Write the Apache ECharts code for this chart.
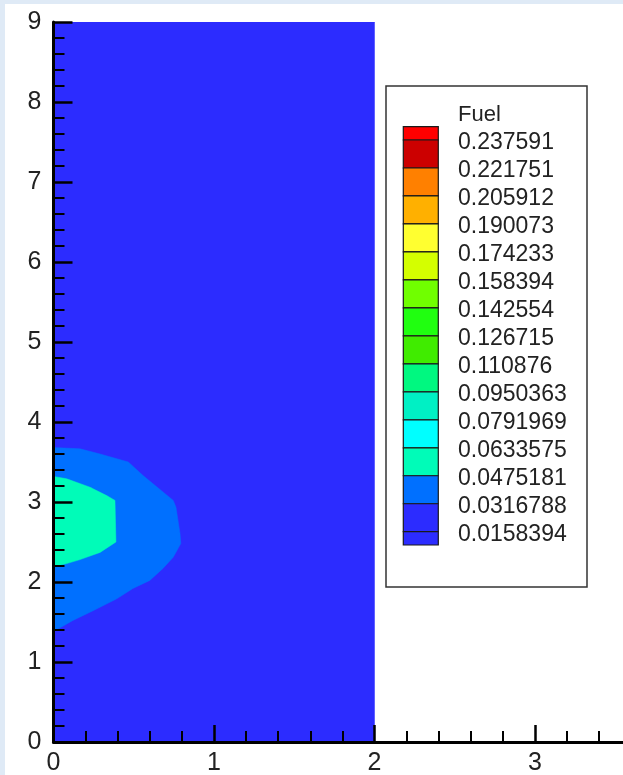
<!DOCTYPE html>
<html>
<head>
<meta charset="utf-8">
<script src="https://cdn.jsdelivr.net/npm/echarts@6/dist/echarts.min.js"></script>
<style>
  html, body { margin: 0; padding: 0; background: #dfeaf6; }
  #chart { position: absolute; left: 5px; top: 4px; width: 618px; height: 771px; background: #ffffff; }
</style>
</head>
<body>
<div id="chart"></div>
<script>
// Contour levels of the "Fuel" variable, highest first
const levelLabels = ['0.237591', '0.221751', '0.205912', '0.190073', '0.174233',
  '0.158394', '0.142554', '0.126715', '0.110876', '0.0950363', '0.0791969',
  '0.0633575', '0.0475181', '0.0316788', '0.0158394'];

// Flood colours of the bands, from above the top level down to below the lowest
const bandColors = ['#ff0000', '#cc0000', '#ff8000', '#ffb000', '#ffff30', '#d4ff00',
  '#70ff00', '#20ff10', '#40ec00', '#00f880', '#00f0c4', '#00ffff', '#00fcb8',
  '#0070ff', '#2c2cff', '#2c2cff'];

// Computational domain (x, y)
const domainOutline = [[0, 0], [2, 0], [2, 9], [0, 9]];

// Region where Fuel >= 0.0316788
const band0316Outline = [[0, 3.68], [0.165, 3.665], [0.29, 3.60], [0.466, 3.50],
  [0.558, 3.33], [0.643, 3.19], [0.746, 3.02], [0.763, 2.935], [0.788, 2.61],
  [0.793, 2.48], [0.746, 2.31], [0.682, 2.17], [0.60, 2.02], [0.495, 1.92],
  [0.394, 1.79], [0.246, 1.64], [0.121, 1.52], [0, 1.38]];

// Region where Fuel >= 0.0475181
const band0475Outline = [[0, 3.32], [0.082, 3.29], [0.227, 3.185], [0.331, 3.08],
  [0.383, 3.02], [0.389, 2.50], [0.29, 2.37], [0.165, 2.28], [0.082, 2.23], [0, 2.19]];

const xTicks = [0, 1, 2, 3, 4];
const yTicks = [0, 1, 2, 3, 4, 5, 6, 7, 8, 9];

const axisFont = "'Liberation Sans Narrow', 'Arial Narrow', 'Liberation Sans', sans-serif";
const legendFont = "'Liberation Sans', Arial, sans-serif";

function polygonSeries(name, outline, color) {
  return {
    name: name,
    type: 'custom',
    coordinateSystem: 'cartesian2d',
    data: outline,
    clip: true,
    renderItem: function (params, api) {
      if (params.dataIndex !== 0) return null;
      const pts = outline.map(function (p) { return api.coord(p); });
      return {
        type: 'polygon',
        shape: { points: pts },
        style: { fill: color, stroke: color, lineWidth: 0.5 }
      };
    }
  };
}

// Colour legend drawn as stacked swatches with the level values beside the boundaries
function buildLegend() {
  const boxLeft = 381, boxTop = 82, boxW = 201, boxH = 501;
  const swX = 398.3, swW = 35;
  const firstEdge = 136, step = 27.98, half = 13.3;
  const els = [];
  els.push({
    type: 'rect',
    shape: { x: boxLeft, y: boxTop, width: boxW, height: boxH },
    style: { fill: '#ffffff', stroke: '#333333', lineWidth: 1.5 },
    z: 20
  });
  els.push({
    type: 'text',
    style: { text: 'Fuel', x: 453, y: 111, fill: '#222222',
      font: '22px ' + legendFont, align: 'left', verticalAlign: 'middle' },
    z: 22
  });
  for (let i = 0; i < bandColors.length; i++) {
    let top, bottom;
    if (i === 0) { top = firstEdge - half; bottom = firstEdge; }
    else if (i === bandColors.length - 1) { top = firstEdge + step * (i - 1); bottom = top + half; }
    else { top = firstEdge + step * (i - 1); bottom = top + step; }
    els.push({
      type: 'rect',
      shape: { x: swX, y: top, width: swW, height: bottom - top },
      style: { fill: bandColors[i], stroke: '#1a1a1a', lineWidth: 1.2 },
      z: 21
    });
  }
  levelLabels.forEach(function (lab, i) {
    els.push({
      type: 'text',
      style: { text: lab, x: 453, y: firstEdge + step * i + 2.5, fill: '#222222',
        font: '23px ' + legendFont, align: 'left', verticalAlign: 'middle' },
      z: 22
    });
  });
  return els;
}

const chart = echarts.init(document.getElementById('chart'), null, { renderer: 'canvas' });

const tickLine = { color: '#000000', width: 2.5 };
const minorLine = { color: '#000000', width: 2 };

chart.setOption({
  animation: false,
  backgroundColor: '#ffffff',
  grid: { left: 48.5, top: 18, width: 642, height: 720, containLabel: false, outerBoundsMode: 'none' },
  xAxis: {
    type: 'value',
    min: xTicks[0],
    max: xTicks[xTicks.length - 1],
    interval: 1,
    z: 10,
    axisLine: { show: true, onZero: false, lineStyle: { color: '#000000', width: 3 } },
    axisTick: { show: true, inside: true, length: 17, lineStyle: tickLine },
    minorTick: { show: true, splitNumber: 5, length: 11, lineStyle: minorLine },
    splitLine: { show: false },
    minorSplitLine: { show: false },
    axisLabel: { margin: 9, color: '#222222', fontSize: 25, fontFamily: axisFont }
  },
  yAxis: {
    type: 'value',
    min: yTicks[0],
    max: yTicks[yTicks.length - 1],
    interval: 1,
    z: 10,
    axisLine: { show: true, onZero: false, lineStyle: { color: '#000000', width: 3 } },
    axisTick: { show: true, inside: true, length: 19, lineStyle: tickLine },
    minorTick: { show: true, splitNumber: 5, length: 11, lineStyle: minorLine },
    splitLine: { show: false },
    minorSplitLine: { show: false },
    axisLabel: { margin: 12, color: '#222222', fontSize: 25, fontFamily: axisFont,
      padding: [4, 0, 0, 0] }
  },
  series: [
    polygonSeries('domain', domainOutline, bandColors[14]),
    polygonSeries('Fuel 0.0316788', band0316Outline, bandColors[13]),
    polygonSeries('Fuel 0.0475181', band0475Outline, bandColors[12])
  ],
  graphic: buildLegend()
});
</script>
</body>
</html>
